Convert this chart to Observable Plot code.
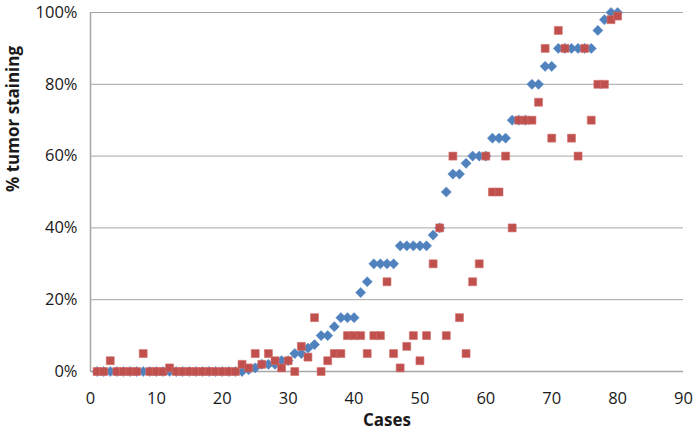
<!DOCTYPE html>
<html>
<head>
<meta charset="utf-8">
<script src="https://cdn.jsdelivr.net/npm/d3@7"></script>
<script src="https://cdn.jsdelivr.net/npm/@observablehq/plot@0.6"></script>
<style>
  html, body { margin: 0; padding: 0; background: #fff; }
  #chart { width: 697px; height: 433px; }
</style>
</head>
<body>
<div id="chart"></div>
<script>
// Cases 1..80
const cases = Array.from({length: 80}, (_, i) => i + 1);

// Blue diamonds (% tumor staining, series 1)
const blueValues = [
  0,0,0,0,0,0,0,0,0,0,          // 1-10
  0,0,0,0,0,0,0,0,0,0,          // 11-20
  0,0,0,0.5,1,2,2,2,3,3,        // 21-30
  5,5,6.5,7.5,10,10,12.5,15,15,15, // 31-40
  22,25,30,30,30,30,35,35,35,35,   // 41-50
  35,38,40,50,55,55,58,60,60,60,   // 51-60
  65,65,65,70,70,70,80,80,85,85,   // 61-70
  90,90,90,90,90,90,95,98,100,100  // 71-80
];

// Red squares (% tumor staining, series 2)
const redValues = [
  0,0,3,0,0,0,0,5,0,0,          // 1-10
  0,1,0,0,0,0,0,0,0,0,          // 11-20
  0,0,2,1,5,2,5,3,1,3,          // 21-30
  0,7,4,15,0,3,5,5,10,10,       // 31-40
  10,5,10,10,25,5,1,7,10,3,     // 41-50
  10,30,40,10,60,15,5,25,30,60, // 51-60
  50,50,60,40,70,70,70,75,90,65, // 61-70
  95,90,65,60,90,70,80,80,98,99  // 71-80
];

const xTicks = [0,10,20,30,40,50,60,70,80,90];
const yTicks = [0,20,40,60,80,100];
const xLabel = "Cases";
const yLabel = "% tumor staining";

const blue = cases.map((c, i) => ({x: c, y: blueValues[i]}));
const red = cases.map((c, i) => ({x: c, y: redValues[i]}));

const font = "'Open Sans', 'Noto Sans', sans-serif";

const chart = Plot.plot({
  width: 697,
  height: 433,
  marginLeft: 90,
  marginRight: 14,
  marginTop: 12,
  marginBottom: 62,
  style: {fontFamily: font, background: "#fff", overflow: "visible"},
  x: {domain: [0, 90]},
  y: {domain: [0, 100]},
  marks: [
    Plot.gridY(yTicks.filter(d => d > 0), {stroke: "#a6a6a6", strokeOpacity: 1, strokeWidth: 1}),
    Plot.ruleY([0], {stroke: "#a6a6a6", strokeWidth: 1.5}),
    Plot.ruleX([0], {stroke: "#a6a6a6", strokeWidth: 1.5}),
    Plot.axisX(xTicks, {tickSize: 0, tickPadding: 21, fontSize: 16.5, fill: "#1a1a1a", label: null}),
    Plot.axisY(yTicks, {tickSize: 0, tickPadding: 13, fontSize: 16.5, fill: "#1a1a1a", tickFormat: d => d + "%", label: null}),
    Plot.dot(blue, {x: "x", y: "y", symbol: "diamond2", r: 4.6, fill: "#4F81BD", stroke: "#5b8cc9", strokeWidth: 0.5}),
    Plot.dot(red, {x: "x", y: "y", symbol: "square", r: 4.5, fill: "#C0504D", stroke: "#d2706d", strokeWidth: 0.6}),
    Plot.text([xLabel], {text: d => d, frameAnchor: "bottom", dy: 54, fontSize: 17, fontWeight: "bold", fill: "#1a1a1a"}),
    Plot.text([yLabel], {text: d => d, frameAnchor: "left", dx: -77, rotate: -90, fontSize: 17, fontWeight: "bold", fill: "#1a1a1a"})
  ]
});

document.getElementById("chart").appendChild(chart);
</script>
</body>
</html>
